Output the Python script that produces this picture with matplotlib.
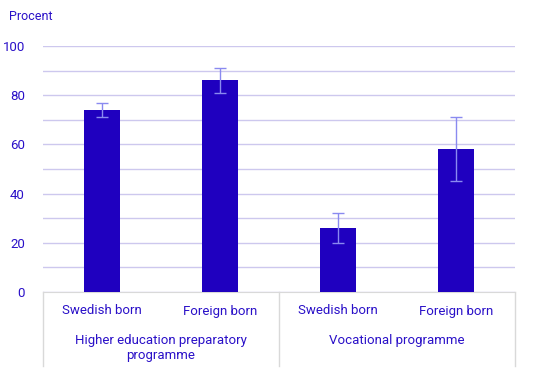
import matplotlib.pyplot as plt
import matplotlib.transforms as mtransforms

plt.rcParams['font.family'] = ['Roboto', 'DejaVu Sans']

# data
categories = ['Swedish born', 'Foreign born', 'Swedish born', 'Foreign born']
groups = ['Higher education preparatory\nprogramme', 'Vocational programme']
values = [74, 86, 26, 58]
err_low = [71, 81, 20, 45]
err_high = [77, 91, 32, 71]

bar_color = '#1f00bf'
err_color = '#8a8af0'
text_color = '#2a10c8'
grid_color = '#cdc8ee'
axis_color = '#d9d9d9'

fig = plt.figure(figsize=(5.34, 3.85), dpi=100)
W, H = 534, 385
ax = fig.add_axes([43 / W, (H - 292) / H, 472 / W, 246 / H])

x = list(range(len(values)))
yerr = [[v - lo for v, lo in zip(values, err_low)],
        [hi - v for v, hi in zip(values, err_high)]]
ax.bar(x, values, width=0.31, color=bar_color, zorder=3)
ax.errorbar(x, values, yerr=yerr, fmt='none', ecolor=err_color,
            elinewidth=1, capsize=4, capthick=1, zorder=4)

ax.set_xlim(-0.5, 3.5)
ax.set_ylim(0, 100)
ax.set_yticks(range(0, 101, 20))
ax.set_yticks(range(0, 101, 10), minor=True)
ax.yaxis.grid(True, which='both', color=grid_color, linewidth=1)
ax.set_axisbelow(True)
ax.tick_params(axis='y', which='both', length=0, pad=13, labelsize=9.5,
               labelcolor=text_color)
ax.set_xticks([])
for s in ['top', 'right', 'left']:
    ax.spines[s].set_visible(False)
ax.spines['bottom'].set_color(axis_color)

trans = mtransforms.blended_transform_factory(ax.transData, ax.transAxes)
for i, c in enumerate(categories):
    ax.text(i, -19 / 246, c, transform=trans, ha='center', va='center',
            fontsize=9.5, color=text_color)
for g, name in enumerate(groups):
    ax.text(2 * g + 0.5, -42 / 246, name, transform=trans, ha='center',
            va='top', fontsize=9.5, color=text_color, linespacing=1.25)
for xv in [-0.5, 1.5, 3.5]:
    ax.plot([xv, xv], [0, -74 / 246], transform=trans, color=axis_color,
            linewidth=1, clip_on=False)

fig.text(9 / W, 1 - 17 / H, 'Procent', ha='left', va='center',
         fontsize=9, color=text_color)

fig.savefig('out.png', dpi=100)
